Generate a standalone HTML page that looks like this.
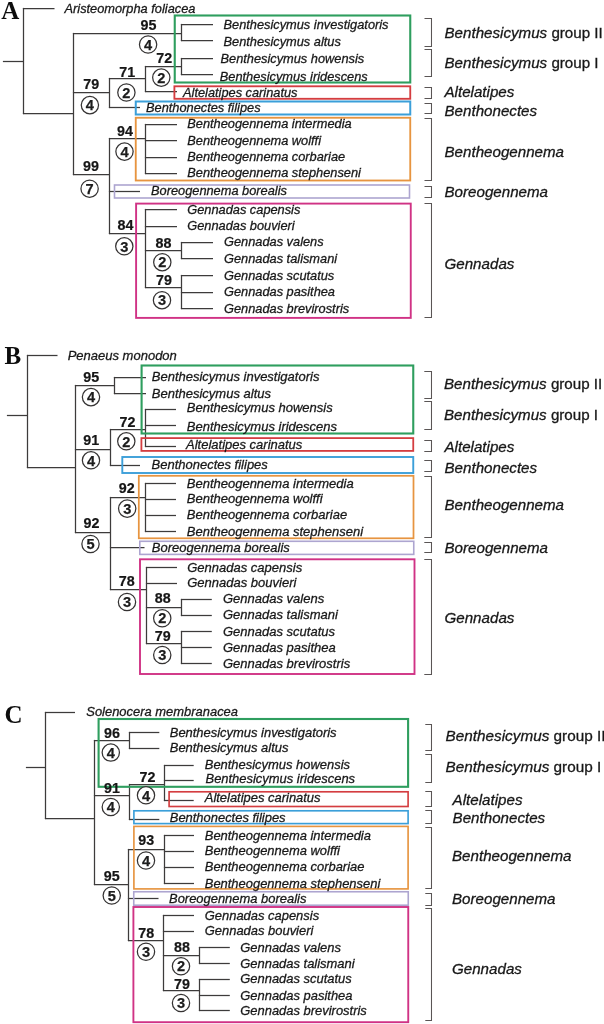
<!DOCTYPE html>
<html lang="en"><head><meta charset="utf-8"><title>Phylogenetic trees A, B, C</title>
<style>
html,body{margin:0;padding:0;background:#fff;}
body{width:604px;height:1024px;overflow:hidden;}
svg{display:block;will-change:transform;}
.ta,.tb,.tc{font-family:"Liberation Sans",sans-serif;font-style:italic;fill:#161616;stroke:#1a1a1a;stroke-width:0.28px;}
.ta{font-size:12.8px;}.tb{font-size:13px;}.tc{font-size:12.95px;}
.b{font-family:"Liberation Sans",sans-serif;font-weight:bold;font-size:14.3px;fill:#141414;stroke:#141414;stroke-width:0.2px;}
.c{font-family:"Liberation Sans",sans-serif;font-weight:bold;font-size:14.6px;fill:#1c1c1c;stroke:#1c1c1c;stroke-width:0.25px;}
.l{font-family:"Liberation Sans",sans-serif;font-size:15.15px;fill:#161616;stroke:#1a1a1a;stroke-width:0.3px;}
.p{font-family:"Liberation Serif",serif;font-weight:bold;font-size:25px;fill:#111;}
</style></head><body>
<svg width="604" height="1024" viewBox="0 0 604 1024">
<defs><filter id="soft" x="0" y="0" width="604" height="1024" filterUnits="userSpaceOnUse"><feGaussianBlur stdDeviation="0.45"/></filter></defs>
<rect x="0" y="0" width="604" height="1024" fill="#ffffff"/>
<g filter="url(#soft)">
<text x="1.3" y="18.8" class="p">A</text>
<line x1="2.9" y1="61.5" x2="23.6" y2="61.5" stroke="#3d3b3b" stroke-width="1.25"/>
<line x1="23.5" y1="7.9" x2="23.5" y2="114.1" stroke="#3d3b3b" stroke-width="1.25"/>
<line x1="22.9" y1="8.5" x2="54.5" y2="8.5" stroke="#3d3b3b" stroke-width="1.25"/>
<line x1="22.9" y1="113.5" x2="73" y2="113.5" stroke="#3d3b3b" stroke-width="1.25"/>
<line x1="73.5" y1="32.9" x2="73.5" y2="175.1" stroke="#3d3b3b" stroke-width="1.25"/>
<line x1="72.9" y1="33.5" x2="181.5" y2="33.5" stroke="#3d3b3b" stroke-width="1.25"/>
<line x1="181.5" y1="23.9" x2="181.5" y2="41.1" stroke="#3d3b3b" stroke-width="1.25"/>
<line x1="180.9" y1="24.5" x2="213" y2="24.5" stroke="#3d3b3b" stroke-width="1.25"/>
<line x1="180.9" y1="40.5" x2="213" y2="40.5" stroke="#3d3b3b" stroke-width="1.25"/>
<line x1="72.9" y1="92.5" x2="109.2" y2="92.5" stroke="#3d3b3b" stroke-width="1.25"/>
<line x1="109.5" y1="77.9" x2="109.5" y2="108.1" stroke="#3d3b3b" stroke-width="1.25"/>
<line x1="108.9" y1="78.5" x2="145" y2="78.5" stroke="#3d3b3b" stroke-width="1.25"/>
<line x1="145.5" y1="65.9" x2="145.5" y2="92.1" stroke="#3d3b3b" stroke-width="1.25"/>
<line x1="144.9" y1="66.5" x2="181" y2="66.5" stroke="#3d3b3b" stroke-width="1.25"/>
<line x1="181.5" y1="57.9" x2="181.5" y2="75.1" stroke="#3d3b3b" stroke-width="1.25"/>
<line x1="180.9" y1="58.5" x2="213" y2="58.5" stroke="#3d3b3b" stroke-width="1.25"/>
<line x1="180.9" y1="74.5" x2="213" y2="74.5" stroke="#3d3b3b" stroke-width="1.25"/>
<line x1="144.9" y1="91.5" x2="177" y2="91.5" stroke="#3d3b3b" stroke-width="1.25"/>
<line x1="108.9" y1="107.5" x2="140" y2="107.5" stroke="#3d3b3b" stroke-width="1.25"/>
<line x1="72.9" y1="174.5" x2="109.2" y2="174.5" stroke="#3d3b3b" stroke-width="1.25"/>
<line x1="109.5" y1="137.9" x2="109.5" y2="234.1" stroke="#3d3b3b" stroke-width="1.25"/>
<line x1="108.9" y1="138.5" x2="145" y2="138.5" stroke="#3d3b3b" stroke-width="1.25"/>
<line x1="145.5" y1="123.9" x2="145.5" y2="174.1" stroke="#3d3b3b" stroke-width="1.25"/>
<line x1="144.9" y1="124.5" x2="177" y2="124.5" stroke="#3d3b3b" stroke-width="1.25"/>
<line x1="144.9" y1="140.5" x2="177" y2="140.5" stroke="#3d3b3b" stroke-width="1.25"/>
<line x1="144.9" y1="157.5" x2="177" y2="157.5" stroke="#3d3b3b" stroke-width="1.25"/>
<line x1="144.9" y1="173.5" x2="177" y2="173.5" stroke="#3d3b3b" stroke-width="1.25"/>
<line x1="108.9" y1="191.5" x2="140" y2="191.5" stroke="#3d3b3b" stroke-width="1.25"/>
<line x1="108.9" y1="233.5" x2="145" y2="233.5" stroke="#3d3b3b" stroke-width="1.25"/>
<line x1="145.5" y1="208.9" x2="145.5" y2="288.1" stroke="#3d3b3b" stroke-width="1.25"/>
<line x1="144.9" y1="209.5" x2="177" y2="209.5" stroke="#3d3b3b" stroke-width="1.25"/>
<line x1="144.9" y1="226.5" x2="177" y2="226.5" stroke="#3d3b3b" stroke-width="1.25"/>
<line x1="144.9" y1="250.5" x2="181.5" y2="250.5" stroke="#3d3b3b" stroke-width="1.25"/>
<line x1="181.5" y1="241.9" x2="181.5" y2="259.1" stroke="#3d3b3b" stroke-width="1.25"/>
<line x1="180.9" y1="242.5" x2="213" y2="242.5" stroke="#3d3b3b" stroke-width="1.25"/>
<line x1="180.9" y1="258.5" x2="213" y2="258.5" stroke="#3d3b3b" stroke-width="1.25"/>
<line x1="144.9" y1="287.5" x2="181.5" y2="287.5" stroke="#3d3b3b" stroke-width="1.25"/>
<line x1="181.5" y1="274.9" x2="181.5" y2="309.1" stroke="#3d3b3b" stroke-width="1.25"/>
<line x1="180.9" y1="275.5" x2="213" y2="275.5" stroke="#3d3b3b" stroke-width="1.25"/>
<line x1="180.9" y1="292.5" x2="213" y2="292.5" stroke="#3d3b3b" stroke-width="1.25"/>
<line x1="180.9" y1="308.5" x2="213" y2="308.5" stroke="#3d3b3b" stroke-width="1.25"/>
<rect x="174.75" y="15.5" width="235.5" height="67.0" fill="none" stroke="#2f9e5e" stroke-width="2.1"/>
<rect x="174.4" y="86.3" width="235.85" height="12.5" fill="none" stroke="#d43d3f" stroke-width="1.85"/>
<rect x="135.75" y="101.5" width="274.5" height="13.0" fill="none" stroke="#3b9fd9" stroke-width="2"/>
<rect x="135.75" y="117.75" width="274.5" height="62.75" fill="none" stroke="#e7943f" stroke-width="1.85"/>
<rect x="114.5" y="185" width="295.0" height="13" fill="none" stroke="#ada5d0" stroke-width="1.6"/>
<rect x="136.1" y="203.6" width="274.65" height="114.29999999999998" fill="none" stroke="#d03385" stroke-width="1.9"/>
<text x="64.5" y="12.8" class="ta">Aristeomorpha foliacea</text>
<text x="223.5" y="29.3" class="ta">Benthesicymus investigatoris</text>
<text x="223.5" y="45.6" class="ta">Benthesicymus altus</text>
<text x="220.5" y="62.8" class="ta">Benthesicymus howensis</text>
<text x="219.75" y="80.7" class="ta">Benthesicymus iridescens</text>
<text x="183" y="97.3" class="ta">Altelatipes carinatus</text>
<text x="146" y="112.05" class="ta">Benthonectes filipes</text>
<text x="187.25" y="128.3" class="ta">Bentheogennema intermedia</text>
<text x="187.25" y="144.8" class="ta">Bentheogennema wolffi</text>
<text x="187.25" y="161.05" class="ta">Bentheogennema corbariae</text>
<text x="187.25" y="177.05" class="ta">Bentheogennema stephenseni</text>
<text x="151" y="195.3" class="ta">Boreogennema borealis</text>
<text x="187.25" y="214.05" class="ta">Gennadas capensis</text>
<text x="187.25" y="229.8" class="ta">Gennadas bouvieri</text>
<text x="224" y="246.05" class="ta">Gennadas valens</text>
<text x="224" y="262.55" class="ta">Gennadas talismani</text>
<text x="224" y="279.55" class="ta">Gennadas scutatus</text>
<text x="224" y="296.3" class="ta">Gennadas pasithea</text>
<text x="224" y="312.55" class="ta">Gennadas brevirostris</text>
<text x="140.6" y="30.0" class="b">95</text>
<text x="156.2" y="63.2" class="b">72</text>
<text x="119.3" y="76.5" class="b">71</text>
<text x="83.2" y="89.4" class="b">79</text>
<text x="117" y="135.5" class="b">94</text>
<text x="83" y="171.2" class="b">99</text>
<text x="117.6" y="230.2" class="b">84</text>
<text x="155.6" y="247.7" class="b">88</text>
<text x="156" y="285.1" class="b">79</text>
<circle cx="148.1" cy="44.5" r="8.65" fill="#fff" stroke="#353333" stroke-width="1.25"/>
<text x="148.1" y="49.7" class="c" text-anchor="middle">4</text>
<circle cx="161.3" cy="77.6" r="8.65" fill="#fff" stroke="#353333" stroke-width="1.25"/>
<text x="161.3" y="82.8" class="c" text-anchor="middle">2</text>
<circle cx="126.4" cy="92.5" r="8.65" fill="#fff" stroke="#353333" stroke-width="1.25"/>
<text x="126.4" y="97.7" class="c" text-anchor="middle">2</text>
<circle cx="89.9" cy="105.1" r="8.65" fill="#fff" stroke="#353333" stroke-width="1.25"/>
<text x="89.9" y="110.3" class="c" text-anchor="middle">4</text>
<circle cx="124.5" cy="151.6" r="8.65" fill="#fff" stroke="#353333" stroke-width="1.25"/>
<text x="124.5" y="156.79999999999998" class="c" text-anchor="middle">4</text>
<circle cx="89.6" cy="188.7" r="8.65" fill="#fff" stroke="#353333" stroke-width="1.25"/>
<text x="89.6" y="193.89999999999998" class="c" text-anchor="middle">7</text>
<circle cx="124.3" cy="246.3" r="8.65" fill="#fff" stroke="#353333" stroke-width="1.25"/>
<text x="124.3" y="251.5" class="c" text-anchor="middle">3</text>
<circle cx="162.3" cy="262.2" r="8.65" fill="#fff" stroke="#353333" stroke-width="1.25"/>
<text x="162.3" y="267.4" class="c" text-anchor="middle">2</text>
<circle cx="162" cy="300.2" r="8.65" fill="#fff" stroke="#353333" stroke-width="1.25"/>
<text x="162" y="305.4" class="c" text-anchor="middle">3</text>
<path d="M424.5 18.5 L431.5 18.5 L431.5 46.5 L424.5 46.5" fill="none" stroke="#5a5454" stroke-width="1.05" stroke-linejoin="miter"/>
<path d="M424.5 49.5 L431.5 49.5 L431.5 76.5 L424.5 76.5" fill="none" stroke="#5a5454" stroke-width="1.05" stroke-linejoin="miter"/>
<path d="M424.5 87.5 L431.5 87.5 L431.5 98.5 L424.5 98.5" fill="none" stroke="#5a5454" stroke-width="1.05" stroke-linejoin="miter"/>
<path d="M424.5 103.5 L431.5 103.5 L431.5 113.5 L424.5 113.5" fill="none" stroke="#5a5454" stroke-width="1.05" stroke-linejoin="miter"/>
<path d="M424.5 118.5 L431.5 118.5 L431.5 180.5 L424.5 180.5" fill="none" stroke="#5a5454" stroke-width="1.05" stroke-linejoin="miter"/>
<path d="M424.5 186.5 L431.5 186.5 L431.5 197.5 L424.5 197.5" fill="none" stroke="#5a5454" stroke-width="1.05" stroke-linejoin="miter"/>
<path d="M424.5 203.5 L431.5 203.5 L431.5 317.5 L424.5 317.5" fill="none" stroke="#5a5454" stroke-width="1.05" stroke-linejoin="miter"/>
<text x="444.5" y="37.9" class="l"><tspan font-style="italic">Benthesicymus</tspan> group II</text>
<text x="444.5" y="67.8" class="l"><tspan font-style="italic">Benthesicymus</tspan> group I</text>
<text x="444.5" y="96.75" class="l" font-style="italic">Altelatipes</text>
<text x="444.5" y="115.75" class="l" font-style="italic">Benthonectes</text>
<text x="444.5" y="157" class="l" font-style="italic">Bentheogennema</text>
<text x="444.5" y="197" class="l" font-style="italic">Boreogennema</text>
<text x="444.5" y="268.5" class="l" font-style="italic">Gennadas</text>
<text x="4.6" y="363.5" class="p">B</text>
<line x1="6.9" y1="415.5" x2="27" y2="415.5" stroke="#3d3b3b" stroke-width="1.25"/>
<line x1="27.5" y1="354.9" x2="27.5" y2="468.1" stroke="#3d3b3b" stroke-width="1.25"/>
<line x1="26.9" y1="355.5" x2="57.5" y2="355.5" stroke="#3d3b3b" stroke-width="1.25"/>
<line x1="26.9" y1="467.5" x2="75.2" y2="467.5" stroke="#3d3b3b" stroke-width="1.25"/>
<line x1="75.5" y1="384.9" x2="75.5" y2="533.1" stroke="#3d3b3b" stroke-width="1.25"/>
<line x1="74.9" y1="385.5" x2="114.5" y2="385.5" stroke="#3d3b3b" stroke-width="1.25"/>
<line x1="114.5" y1="376.9" x2="114.5" y2="394.1" stroke="#3d3b3b" stroke-width="1.25"/>
<line x1="113.9" y1="377.5" x2="146" y2="377.5" stroke="#3d3b3b" stroke-width="1.25"/>
<line x1="113.9" y1="393.5" x2="146" y2="393.5" stroke="#3d3b3b" stroke-width="1.25"/>
<line x1="74.9" y1="449.5" x2="110.8" y2="449.5" stroke="#3d3b3b" stroke-width="1.25"/>
<line x1="110.5" y1="428.9" x2="110.5" y2="466.1" stroke="#3d3b3b" stroke-width="1.25"/>
<line x1="109.9" y1="429.5" x2="145.5" y2="429.5" stroke="#3d3b3b" stroke-width="1.25"/>
<line x1="145.5" y1="408.9" x2="145.5" y2="447.1" stroke="#3d3b3b" stroke-width="1.25"/>
<line x1="144.9" y1="409.5" x2="176" y2="409.5" stroke="#3d3b3b" stroke-width="1.25"/>
<line x1="144.9" y1="425.5" x2="176" y2="425.5" stroke="#3d3b3b" stroke-width="1.25"/>
<line x1="144.9" y1="446.5" x2="176" y2="446.5" stroke="#3d3b3b" stroke-width="1.25"/>
<line x1="109.9" y1="465.5" x2="140" y2="465.5" stroke="#3d3b3b" stroke-width="1.25"/>
<line x1="74.9" y1="532.5" x2="110.5" y2="532.5" stroke="#3d3b3b" stroke-width="1.25"/>
<line x1="110.5" y1="496.9" x2="110.5" y2="590.1" stroke="#3d3b3b" stroke-width="1.25"/>
<line x1="109.9" y1="497.5" x2="145.7" y2="497.5" stroke="#3d3b3b" stroke-width="1.25"/>
<line x1="145.5" y1="482.9" x2="145.5" y2="532.1" stroke="#3d3b3b" stroke-width="1.25"/>
<line x1="144.9" y1="483.5" x2="176" y2="483.5" stroke="#3d3b3b" stroke-width="1.25"/>
<line x1="144.9" y1="499.5" x2="176" y2="499.5" stroke="#3d3b3b" stroke-width="1.25"/>
<line x1="144.9" y1="515.5" x2="176" y2="515.5" stroke="#3d3b3b" stroke-width="1.25"/>
<line x1="144.9" y1="531.5" x2="176" y2="531.5" stroke="#3d3b3b" stroke-width="1.25"/>
<line x1="109.9" y1="547.5" x2="144.5" y2="547.5" stroke="#3d3b3b" stroke-width="1.25"/>
<line x1="109.9" y1="589.5" x2="146.2" y2="589.5" stroke="#3d3b3b" stroke-width="1.25"/>
<line x1="146.5" y1="566.9" x2="146.5" y2="644.1" stroke="#3d3b3b" stroke-width="1.25"/>
<line x1="145.9" y1="567.5" x2="177" y2="567.5" stroke="#3d3b3b" stroke-width="1.25"/>
<line x1="145.9" y1="583.5" x2="177" y2="583.5" stroke="#3d3b3b" stroke-width="1.25"/>
<line x1="145.9" y1="607.5" x2="181.5" y2="607.5" stroke="#3d3b3b" stroke-width="1.25"/>
<line x1="181.5" y1="598.9" x2="181.5" y2="616.1" stroke="#3d3b3b" stroke-width="1.25"/>
<line x1="180.9" y1="599.5" x2="211.8" y2="599.5" stroke="#3d3b3b" stroke-width="1.25"/>
<line x1="180.9" y1="615.5" x2="211.8" y2="615.5" stroke="#3d3b3b" stroke-width="1.25"/>
<line x1="145.9" y1="643.5" x2="181.5" y2="643.5" stroke="#3d3b3b" stroke-width="1.25"/>
<line x1="181.5" y1="630.9" x2="181.5" y2="664.1" stroke="#3d3b3b" stroke-width="1.25"/>
<line x1="180.9" y1="631.5" x2="211.8" y2="631.5" stroke="#3d3b3b" stroke-width="1.25"/>
<line x1="180.9" y1="647.5" x2="211.8" y2="647.5" stroke="#3d3b3b" stroke-width="1.25"/>
<line x1="180.9" y1="663.5" x2="211.8" y2="663.5" stroke="#3d3b3b" stroke-width="1.25"/>
<rect x="141.6" y="365.5" width="271.65" height="68.0" fill="none" stroke="#2f9e5e" stroke-width="2.1"/>
<rect x="141.4" y="438.1" width="271.85" height="12.799999999999955" fill="none" stroke="#d43d3f" stroke-width="1.8"/>
<rect x="122.3" y="457" width="290.95" height="16" fill="none" stroke="#3b9fd9" stroke-width="1.9"/>
<rect x="138.8" y="475.8" width="274.7" height="62.49999999999994" fill="none" stroke="#e7943f" stroke-width="1.75"/>
<rect x="139.8" y="541.3" width="273.95" height="13.100000000000023" fill="none" stroke="#ada5d0" stroke-width="1.6"/>
<rect x="140" y="559.3" width="274.5" height="114.70000000000005" fill="none" stroke="#d03385" stroke-width="1.9"/>
<text x="67.7" y="359.55" class="tb">Penaeus monodon</text>
<text x="151.75" y="381.3" class="tb">Benthesicymus investigatoris</text>
<text x="151.75" y="397.55" class="tb">Benthesicymus altus</text>
<text x="186.75" y="412.3" class="tb">Benthesicymus howensis</text>
<text x="186.75" y="430.6" class="tb">Benthesicymus iridescens</text>
<text x="186" y="449.3" class="tb">Altelatipes carinatus</text>
<text x="151.5" y="468.8" class="tb">Benthonectes filipes</text>
<text x="186.75" y="487.55" class="tb">Bentheogennema intermedia</text>
<text x="186.75" y="503.05" class="tb">Bentheogennema wolffi</text>
<text x="186.75" y="518.55" class="tb">Bentheogennema corbariae</text>
<text x="186.75" y="535.6" class="tb">Bentheogennema stephenseni</text>
<text x="151.75" y="551.8" class="tb">Boreogennema borealis</text>
<text x="187.25" y="571.55" class="tb">Gennadas capensis</text>
<text x="187.25" y="587.3" class="tb">Gennadas bouvieri</text>
<text x="223" y="602.8" class="tb">Gennadas valens</text>
<text x="223" y="619.3" class="tb">Gennadas talismani</text>
<text x="223" y="635.55" class="tb">Gennadas scutatus</text>
<text x="223" y="651.55" class="tb">Gennadas pasithea</text>
<text x="223" y="667.8" class="tb">Gennadas brevirostris</text>
<text x="83.25" y="381.5" class="b">95</text>
<text x="119.5" y="426.8" class="b">72</text>
<text x="83.25" y="444.75" class="b">91</text>
<text x="118.75" y="492.75" class="b">92</text>
<text x="83.5" y="528.0" class="b">92</text>
<text x="118.75" y="585.5" class="b">78</text>
<text x="154.75" y="603.25" class="b">88</text>
<text x="154.75" y="640.75" class="b">79</text>
<circle cx="91" cy="397.1" r="8.65" fill="#fff" stroke="#353333" stroke-width="1.25"/>
<text x="91" y="402.3" class="c" text-anchor="middle">4</text>
<circle cx="126.3" cy="441.3" r="8.65" fill="#fff" stroke="#353333" stroke-width="1.25"/>
<text x="126.3" y="446.5" class="c" text-anchor="middle">2</text>
<circle cx="91" cy="460.3" r="8.65" fill="#fff" stroke="#353333" stroke-width="1.25"/>
<text x="91" y="465.5" class="c" text-anchor="middle">4</text>
<circle cx="127.2" cy="508.6" r="8.65" fill="#fff" stroke="#353333" stroke-width="1.25"/>
<text x="127.2" y="513.8000000000001" class="c" text-anchor="middle">3</text>
<circle cx="90.5" cy="544" r="8.65" fill="#fff" stroke="#353333" stroke-width="1.25"/>
<text x="90.5" y="549.2" class="c" text-anchor="middle">5</text>
<circle cx="127" cy="602" r="8.65" fill="#fff" stroke="#353333" stroke-width="1.25"/>
<text x="127" y="607.2" class="c" text-anchor="middle">3</text>
<circle cx="162.25" cy="618.25" r="8.65" fill="#fff" stroke="#353333" stroke-width="1.25"/>
<text x="162.25" y="623.45" class="c" text-anchor="middle">2</text>
<circle cx="162.25" cy="655" r="8.65" fill="#fff" stroke="#353333" stroke-width="1.25"/>
<text x="162.25" y="660.2" class="c" text-anchor="middle">3</text>
<path d="M424.3 371.5 L431.5 371.5 L431.5 398.5 L424.3 398.5" fill="none" stroke="#5a5454" stroke-width="1.05" stroke-linejoin="miter"/>
<path d="M424.3 401.5 L431.5 401.5 L431.5 429.5 L424.3 429.5" fill="none" stroke="#5a5454" stroke-width="1.05" stroke-linejoin="miter"/>
<path d="M424.3 440.5 L431.5 440.5 L431.5 451.5 L424.3 451.5" fill="none" stroke="#5a5454" stroke-width="1.05" stroke-linejoin="miter"/>
<path d="M424.3 460.5 L431.5 460.5 L431.5 471.5 L424.3 471.5" fill="none" stroke="#5a5454" stroke-width="1.05" stroke-linejoin="miter"/>
<path d="M424.3 476.5 L431.5 476.5 L431.5 537.5 L424.3 537.5" fill="none" stroke="#5a5454" stroke-width="1.05" stroke-linejoin="miter"/>
<path d="M424.3 542.5 L431.5 542.5 L431.5 552.5 L424.3 552.5" fill="none" stroke="#5a5454" stroke-width="1.05" stroke-linejoin="miter"/>
<path d="M424.3 559.5 L431.5 559.5 L431.5 674.5 L424.3 674.5" fill="none" stroke="#5a5454" stroke-width="1.05" stroke-linejoin="miter"/>
<text x="444" y="389.1" class="l"><tspan font-style="italic">Benthesicymus</tspan> group II</text>
<text x="444" y="420.4" class="l"><tspan font-style="italic">Benthesicymus</tspan> group I</text>
<text x="444.5" y="451.75" class="l" font-style="italic">Altelatipes</text>
<text x="444.5" y="473" class="l" font-style="italic">Benthonectes</text>
<text x="444.5" y="509.75" class="l" font-style="italic">Bentheogennema</text>
<text x="444.5" y="553.25" class="l" font-style="italic">Boreogennema</text>
<text x="444.5" y="623.25" class="l" font-style="italic">Gennadas</text>
<text x="4.6" y="722.9" class="p">C</text>
<line x1="25.9" y1="767.5" x2="45.8" y2="767.5" stroke="#3d3b3b" stroke-width="1.25"/>
<line x1="45.5" y1="711.9" x2="45.5" y2="819.1" stroke="#3d3b3b" stroke-width="1.25"/>
<line x1="44.9" y1="712.5" x2="75" y2="712.5" stroke="#3d3b3b" stroke-width="1.25"/>
<line x1="44.9" y1="818.5" x2="94" y2="818.5" stroke="#3d3b3b" stroke-width="1.25"/>
<line x1="94.5" y1="739.9" x2="94.5" y2="885.1" stroke="#3d3b3b" stroke-width="1.25"/>
<line x1="93.9" y1="740.5" x2="129.6" y2="740.5" stroke="#3d3b3b" stroke-width="1.25"/>
<line x1="129.5" y1="731.9" x2="129.5" y2="749.1" stroke="#3d3b3b" stroke-width="1.25"/>
<line x1="128.9" y1="732.5" x2="159.3" y2="732.5" stroke="#3d3b3b" stroke-width="1.25"/>
<line x1="128.9" y1="748.5" x2="159.3" y2="748.5" stroke="#3d3b3b" stroke-width="1.25"/>
<line x1="93.9" y1="795.5" x2="129.6" y2="795.5" stroke="#3d3b3b" stroke-width="1.25"/>
<line x1="129.5" y1="783.9" x2="129.5" y2="820.1" stroke="#3d3b3b" stroke-width="1.25"/>
<line x1="128.9" y1="784.5" x2="164.6" y2="784.5" stroke="#3d3b3b" stroke-width="1.25"/>
<line x1="164.5" y1="764.9" x2="164.5" y2="801.1" stroke="#3d3b3b" stroke-width="1.25"/>
<line x1="163.9" y1="765.5" x2="193.7" y2="765.5" stroke="#3d3b3b" stroke-width="1.25"/>
<line x1="163.9" y1="780.5" x2="193.7" y2="780.5" stroke="#3d3b3b" stroke-width="1.25"/>
<line x1="163.9" y1="800.5" x2="193.7" y2="800.5" stroke="#3d3b3b" stroke-width="1.25"/>
<line x1="128.9" y1="819.5" x2="159.3" y2="819.5" stroke="#3d3b3b" stroke-width="1.25"/>
<line x1="93.9" y1="884.5" x2="128.8" y2="884.5" stroke="#3d3b3b" stroke-width="1.25"/>
<line x1="128.5" y1="848.9" x2="128.5" y2="941.1" stroke="#3d3b3b" stroke-width="1.25"/>
<line x1="127.9" y1="849.5" x2="164" y2="849.5" stroke="#3d3b3b" stroke-width="1.25"/>
<line x1="164.5" y1="834.9" x2="164.5" y2="884.1" stroke="#3d3b3b" stroke-width="1.25"/>
<line x1="163.9" y1="835.5" x2="194" y2="835.5" stroke="#3d3b3b" stroke-width="1.25"/>
<line x1="163.9" y1="851.5" x2="194" y2="851.5" stroke="#3d3b3b" stroke-width="1.25"/>
<line x1="163.9" y1="867.5" x2="194" y2="867.5" stroke="#3d3b3b" stroke-width="1.25"/>
<line x1="163.9" y1="883.5" x2="194" y2="883.5" stroke="#3d3b3b" stroke-width="1.25"/>
<line x1="127.9" y1="898.5" x2="158.5" y2="898.5" stroke="#3d3b3b" stroke-width="1.25"/>
<line x1="127.9" y1="940.5" x2="163.5" y2="940.5" stroke="#3d3b3b" stroke-width="1.25"/>
<line x1="163.5" y1="914.9" x2="163.5" y2="991.1" stroke="#3d3b3b" stroke-width="1.25"/>
<line x1="162.9" y1="915.5" x2="194" y2="915.5" stroke="#3d3b3b" stroke-width="1.25"/>
<line x1="162.9" y1="931.5" x2="194" y2="931.5" stroke="#3d3b3b" stroke-width="1.25"/>
<line x1="162.9" y1="955.5" x2="199.2" y2="955.5" stroke="#3d3b3b" stroke-width="1.25"/>
<line x1="199.5" y1="946.9" x2="199.5" y2="964.1" stroke="#3d3b3b" stroke-width="1.25"/>
<line x1="198.9" y1="947.5" x2="229.8" y2="947.5" stroke="#3d3b3b" stroke-width="1.25"/>
<line x1="198.9" y1="963.5" x2="229.8" y2="963.5" stroke="#3d3b3b" stroke-width="1.25"/>
<line x1="162.9" y1="990.5" x2="199.2" y2="990.5" stroke="#3d3b3b" stroke-width="1.25"/>
<line x1="199.5" y1="978.9" x2="199.5" y2="1011.1" stroke="#3d3b3b" stroke-width="1.25"/>
<line x1="198.9" y1="979.5" x2="229.8" y2="979.5" stroke="#3d3b3b" stroke-width="1.25"/>
<line x1="198.9" y1="995.5" x2="229.8" y2="995.5" stroke="#3d3b3b" stroke-width="1.25"/>
<line x1="198.9" y1="1010.5" x2="229.8" y2="1010.5" stroke="#3d3b3b" stroke-width="1.25"/>
<rect x="98.6" y="719" width="309.5" height="67.79999999999995" fill="none" stroke="#2f9e5e" stroke-width="2.1"/>
<rect x="169.1" y="791.8" width="239.00000000000003" height="14.700000000000045" fill="none" stroke="#d43d3f" stroke-width="1.65"/>
<rect x="133.9" y="810.8" width="274.20000000000005" height="12.800000000000068" fill="none" stroke="#3b9fd9" stroke-width="1.65"/>
<rect x="133.9" y="826.4" width="274.20000000000005" height="62.5" fill="none" stroke="#e7943f" stroke-width="1.65"/>
<rect x="133.75" y="891.75" width="274.5" height="13.450000000000045" fill="none" stroke="#ada5d0" stroke-width="1.6"/>
<rect x="133.4" y="907" width="274.85" height="115.20000000000005" fill="none" stroke="#d03385" stroke-width="1.9"/>
<text x="86.25" y="716.05" class="tc">Solenocera membranacea</text>
<text x="169.75" y="736.55" class="tc">Benthesicymus investigatoris</text>
<text x="169.75" y="752.3" class="tc">Benthesicymus altus</text>
<text x="204.75" y="768.8" class="tc">Benthesicymus howensis</text>
<text x="205.5" y="783.1" class="tc">Benthesicymus iridescens</text>
<text x="204.75" y="802.05" class="tc">Altelatipes carinatus</text>
<text x="169.75" y="822.05" class="tc">Benthonectes filipes</text>
<text x="204.75" y="839.55" class="tc">Bentheogennema intermedia</text>
<text x="204.75" y="855.3" class="tc">Bentheogennema wolffi</text>
<text x="204.75" y="871.3" class="tc">Bentheogennema corbariae</text>
<text x="204.75" y="887.7" class="tc">Bentheogennema stephenseni</text>
<text x="169" y="902.8" class="tc">Boreogennema borealis</text>
<text x="204.75" y="919.55" class="tc">Gennadas capensis</text>
<text x="204.75" y="935.3" class="tc">Gennadas bouvieri</text>
<text x="240.25" y="951.55" class="tc">Gennadas valens</text>
<text x="240.25" y="967.55" class="tc">Gennadas talismani</text>
<text x="240.25" y="983.3" class="tc">Gennadas scutatus</text>
<text x="240.25" y="999.55" class="tc">Gennadas pasithea</text>
<text x="240.25" y="1015.3" class="tc">Gennadas brevirostris</text>
<text x="104" y="737.5" class="b">96</text>
<text x="139.5" y="781.5" class="b">72</text>
<text x="104" y="792.5" class="b">91</text>
<text x="138.25" y="845.25" class="b">93</text>
<text x="103.75" y="881.0" class="b">95</text>
<text x="138.25" y="937.75" class="b">78</text>
<text x="174" y="952.25" class="b">88</text>
<text x="174" y="989.0" class="b">79</text>
<circle cx="110.8" cy="752.6" r="8.65" fill="#fff" stroke="#353333" stroke-width="1.25"/>
<text x="110.8" y="757.8000000000001" class="c" text-anchor="middle">4</text>
<circle cx="146" cy="795.3" r="8.65" fill="#fff" stroke="#353333" stroke-width="1.25"/>
<text x="146" y="800.5" class="c" text-anchor="middle">4</text>
<circle cx="110.8" cy="807" r="8.65" fill="#fff" stroke="#353333" stroke-width="1.25"/>
<text x="110.8" y="812.2" class="c" text-anchor="middle">4</text>
<circle cx="146" cy="860.5" r="8.65" fill="#fff" stroke="#353333" stroke-width="1.25"/>
<text x="146" y="865.7" class="c" text-anchor="middle">4</text>
<circle cx="111.75" cy="895.5" r="8.65" fill="#fff" stroke="#353333" stroke-width="1.25"/>
<text x="111.75" y="900.7" class="c" text-anchor="middle">5</text>
<circle cx="146" cy="951.75" r="8.65" fill="#fff" stroke="#353333" stroke-width="1.25"/>
<text x="146" y="956.95" class="c" text-anchor="middle">3</text>
<circle cx="181" cy="966.25" r="8.65" fill="#fff" stroke="#353333" stroke-width="1.25"/>
<text x="181" y="971.45" class="c" text-anchor="middle">2</text>
<circle cx="181" cy="1003" r="8.65" fill="#fff" stroke="#353333" stroke-width="1.25"/>
<text x="181" y="1008.2" class="c" text-anchor="middle">3</text>
<path d="M425.3 724.5 L431.5 724.5 L431.5 750.5 L425.3 750.5" fill="none" stroke="#5a5454" stroke-width="1.05" stroke-linejoin="miter"/>
<path d="M425.3 754.5 L431.5 754.5 L431.5 782.5 L425.3 782.5" fill="none" stroke="#5a5454" stroke-width="1.05" stroke-linejoin="miter"/>
<path d="M425.3 791.5 L431.5 791.5 L431.5 806.5 L425.3 806.5" fill="none" stroke="#5a5454" stroke-width="1.05" stroke-linejoin="miter"/>
<path d="M425.3 810.5 L431.5 810.5 L431.5 823.5 L425.3 823.5" fill="none" stroke="#5a5454" stroke-width="1.05" stroke-linejoin="miter"/>
<path d="M425.3 827.5 L431.5 827.5 L431.5 888.5 L425.3 888.5" fill="none" stroke="#5a5454" stroke-width="1.05" stroke-linejoin="miter"/>
<path d="M425.3 893.5 L431.5 893.5 L431.5 905.5 L425.3 905.5" fill="none" stroke="#5a5454" stroke-width="1.05" stroke-linejoin="miter"/>
<path d="M425.3 908.5 L431.5 908.5 L431.5 1020.5 L425.3 1020.5" fill="none" stroke="#5a5454" stroke-width="1.05" stroke-linejoin="miter"/>
<text x="445.6" y="741.4" class="l" style="font-size:15.3px"><tspan font-style="italic">Benthesicymus</tspan> group II</text>
<text x="445.6" y="772.1" class="l" style="font-size:15.3px"><tspan font-style="italic">Benthesicymus</tspan> group I</text>
<text x="452.6" y="804.5" class="l" font-style="italic">Altelatipes</text>
<text x="452.6" y="822.7" class="l" font-style="italic">Benthonectes</text>
<text x="452" y="861" class="l" font-style="italic">Bentheogennema</text>
<text x="452" y="903.75" class="l" font-style="italic">Boreogennema</text>
<text x="452" y="973.75" class="l" font-style="italic">Gennadas</text>
</g>
</svg>
</body></html>
